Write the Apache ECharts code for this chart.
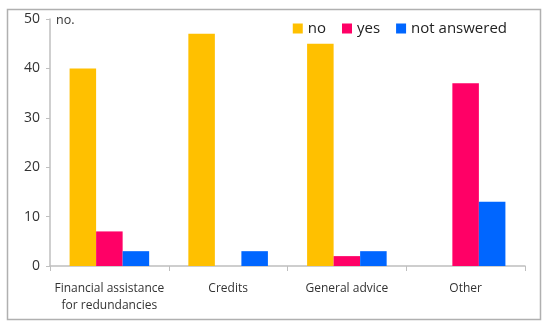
<!DOCTYPE html>
<html><head><meta charset="utf-8">
<script src="https://cdn.jsdelivr.net/npm/echarts@6/dist/echarts.min.js"></script>
<style>html,body{margin:0;padding:0;background:#fff}#c{width:550px;height:333px}</style>
</head><body><div id="c"></div>
<script>
const categories = ['Financial assistance\nfor redundancies', 'Credits', 'General advice', 'Other'];
const noValues = [40, 47, 45, 0];
const yesValues = [7, 0, 2, 37];
const notAnsweredValues = [3, 3, 3, 13];
const yTicks = [0, 10, 20, 30, 40, 50];

const chart = echarts.init(document.getElementById('c'));
const font = '"Open Sans", "Noto Sans", sans-serif';
chart.setOption({
  animation: false,
  textStyle: {fontFamily: font},
  graphic: [{
    type: 'rect', shape: {x: 7.5, y: 9.5, width: 533, height: 310},
    style: {fill: 'none', stroke: '#b0b0b0', lineWidth: 1.5}, z: -1
  }],
  legend: {
    right: 38, top: 16, itemWidth: 10, itemHeight: 10, itemGap: 16,
    textStyle: {fontSize: 15, color: '#222', fontFamily: font},
    icon: 'rect'
  },
  grid: {left: 50, right: 25, top: 19, bottom: 67},
  xAxis: {
    type: 'category', data: categories,
    axisLine: {lineStyle: {color: '#bfbfbf', width: 1.5}},
    axisTick: {show: true, alignWithLabel: false, length: 5, lineStyle: {color: '#bfbfbf'}},
    axisLabel: {interval: 0, color: '#333', fontSize: 12, margin: 14, lineHeight: 17, fontFamily: font}
  },
  yAxis: {
    type: 'value', min: yTicks[0], max: yTicks[yTicks.length - 1], interval: 10,
    name: 'no.', nameLocation: 'end', nameGap: -8,
    nameTextStyle: {align: 'left', verticalAlign: 'bottom', color: '#333', fontSize: 12.5, padding: [0, 0, 0, 6]},
    axisLine: {show: true, lineStyle: {color: '#bfbfbf', width: 1.5}},
    axisTick: {show: true, length: 4, lineStyle: {color: '#bfbfbf'}},
    splitLine: {show: false},
    axisLabel: {color: '#333', fontSize: 14, margin: 10, fontFamily: font}
  },
  series: [
    {name: 'no', type: 'bar', data: noValues, itemStyle: {color: '#FFC000'}, barGap: '0%', barCategoryGap: '33%'},
    {name: 'yes', type: 'bar', data: yesValues, itemStyle: {color: '#FF0066'}},
    {name: 'not answered', type: 'bar', data: notAnsweredValues, itemStyle: {color: '#0066FF'}}
  ]
});
</script></body></html>
